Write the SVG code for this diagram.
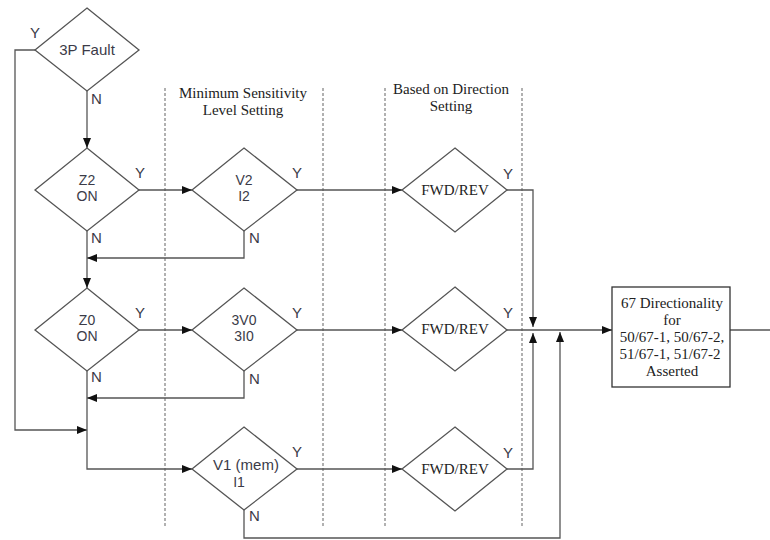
<svg xmlns="http://www.w3.org/2000/svg" width="770" height="540" viewBox="0 0 770 540">
<defs>
<marker id="ah" markerWidth="10" markerHeight="8" refX="10" refY="4" orient="auto" markerUnits="userSpaceOnUse">
<path d="M0,0 L10,4 L0,8 z" fill="#111"/>
</marker>
</defs>
<style>
.sh{fill:#fff;stroke:#555;stroke-width:1.3}
.ln{fill:none;stroke:#555;stroke-width:1.3}
.ar{fill:none;stroke:#555;stroke-width:1.3;marker-end:url(#ah)}
.dash{fill:none;stroke:#888;stroke-width:1.3;stroke-dasharray:3,2}
.sa{font-family:"Liberation Sans",Arial,sans-serif;font-size:15px;fill:#3b3b48}
.sm{font-size:14px}
.sr{font-family:"Liberation Serif","Times New Roman",serif;font-size:15px;fill:#222}
.c{text-anchor:middle}
</style>
<rect width="770" height="540" fill="#fff"/>
<g id="columns">
<line class="dash" x1="165" y1="88" x2="165" y2="526"/>
<line class="dash" x1="323" y1="88" x2="323" y2="526"/>
<line class="dash" x1="385" y1="88" x2="385" y2="526"/>
<line class="dash" x1="522" y1="88" x2="522" y2="526"/>
<text class="sr c" x="243" y="98">Minimum Sensitivity</text>
<text class="sr c" x="243" y="115">Level Setting</text>
<text class="sr c" x="451" y="94">Based on Direction</text>
<text class="sr c" x="451" y="111">Setting</text>
</g>
<g id="connectors">
<polyline class="ar" points="87,91 87,148"/>
<polyline class="ar" points="35,50 15,50 15,430 87,430"/>
<polyline class="ar" points="139,190 192,190"/>
<polyline class="ar" points="244,231 244,258 87,258"/>
<polyline class="ar" points="87,231 87,288"/>
<polyline class="ar" points="139,330 192,330"/>
<polyline class="ar" points="244,371 244,398 87,398"/>
<polyline class="ar" points="87,371 87,469 192,469"/>
<polyline class="ar" points="244,510 244,538 560,538 560,332"/>
<polyline class="ar" points="297,190 402,190"/>
<polyline class="ar" points="297,330 402,330"/>
<polyline class="ar" points="297,469 402,469"/>
<polyline class="ar" points="507,190 533,190 533,327"/>
<polyline class="ar" points="507,469 533,469 533,333"/>
<polyline class="ar" points="507,330 612,330"/>
<polyline class="ln" points="730,330 770,330"/>
</g>
<g id="fault3p">
<polygon class="sh" points="87,8 139,50 87,91 35,50"/>
<text class="sa c" x="87" y="55">3P Fault</text>
<text class="sa" x="30" y="38">Y</text>
<text class="sa" x="91" y="104">N</text>
</g>
<g id="z2">
<polygon class="sh" points="87,148 139,190 87,231 35,190"/>
<text class="sa sm c" x="87" y="185">Z2</text>
<text class="sa sm c" x="87" y="201">ON</text>
<text class="sa" x="135" y="178">Y</text>
<text class="sa" x="91" y="243">N</text>
</g>
<g id="v2i2">
<polygon class="sh" points="244,148 297,190 244,231 192,190"/>
<text class="sa sm c" x="244" y="185">V2</text>
<text class="sa sm c" x="244" y="201">I2</text>
<text class="sa" x="292" y="178">Y</text>
<text class="sa" x="249" y="243">N</text>
</g>
<g id="z0">
<polygon class="sh" points="87,288 139,330 87,371 35,330"/>
<text class="sa sm c" x="87" y="325">Z0</text>
<text class="sa sm c" x="87" y="341">ON</text>
<text class="sa" x="135" y="318">Y</text>
<text class="sa" x="91" y="382">N</text>
</g>
<g id="v0i0">
<polygon class="sh" points="244,288 297,330 244,371 192,330"/>
<text class="sa sm c" x="244" y="325">3V0</text>
<text class="sa sm c" x="244" y="341">3I0</text>
<text class="sa" x="292" y="318">Y</text>
<text class="sa" x="249" y="384">N</text>
</g>
<g id="v1i1">
<polygon class="sh" points="244,427 297,469 244,510 192,469"/>
<text class="sa c" x="246" y="470">V1 (mem)</text>
<text class="sa sm c" x="239" y="487">I1</text>
<text class="sa" x="292" y="457">Y</text>
<text class="sa" x="249" y="521">N</text>
</g>
<g id="fwd1">
<polygon class="sh" points="455,148 507,190 455,232 402,190"/>
<text class="sr c" x="455" y="195">FWD/REV</text>
<text class="sa" x="503" y="179">Y</text>
</g>
<g id="fwd2">
<polygon class="sh" points="455,287 507,330 455,371 402,330"/>
<text class="sr c" x="455" y="334">FWD/REV</text>
<text class="sa" x="503" y="318">Y</text>
</g>
<g id="fwd3">
<polygon class="sh" points="455,427 507,469 455,511 402,469"/>
<text class="sr c" x="455" y="474">FWD/REV</text>
<text class="sa" x="503" y="458">Y</text>
</g>
<g id="result">
<rect class="sh" x="612" y="287" width="118" height="100" style="stroke:#333"/>
<text class="sr c" x="672" y="308">67 Directionality</text>
<text class="sr c" x="672" y="325">for</text>
<text class="sr c" x="672" y="342">50/67-1, 50/67-2,</text>
<text class="sr c" x="670" y="359">51/67-1, 51/67-2</text>
<text class="sr c" x="672" y="376">Asserted</text>
</g>
</svg>
